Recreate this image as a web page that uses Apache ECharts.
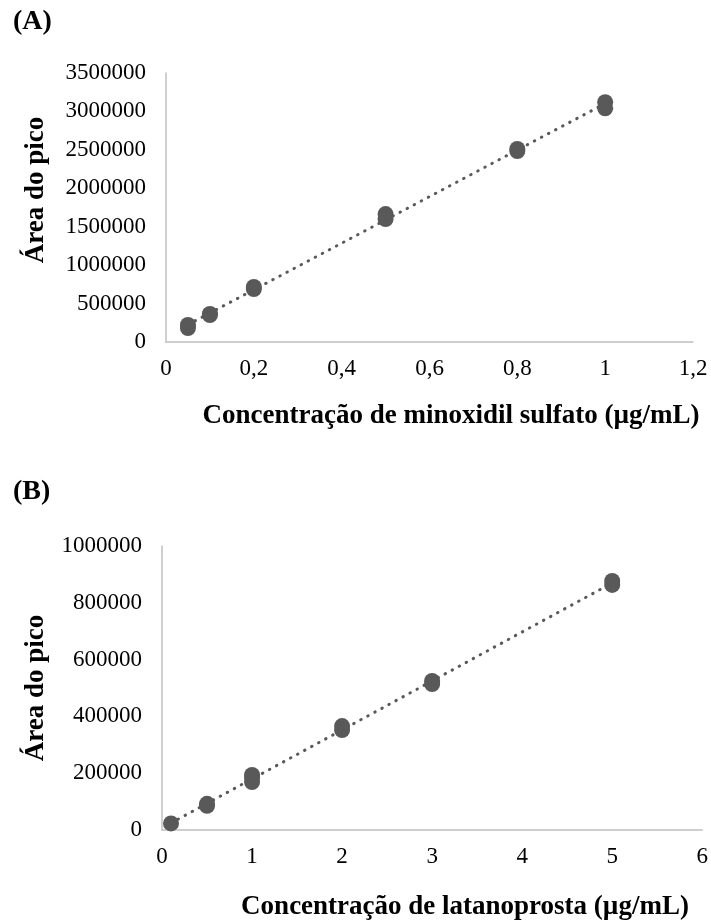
<!DOCTYPE html>
<html>
<head>
<meta charset="utf-8">
<script src="https://cdn.jsdelivr.net/npm/echarts@6/dist/echarts.min.js"></script>
<style>
  html, body { margin: 0; padding: 0; background: #fff; }
  #chart { width: 711px; height: 924px; }
</style>
</head>
<body>
<div id="chart"></div>
<script>
// (A) minoxidil sulfato
const concA = [0.05, 0.05, 0.1, 0.1, 0.2, 0.2, 0.5, 0.5, 0.8, 0.8, 1, 1];
const areaA = [221000, 182000, 364000, 351000, 716000, 690000, 1665000, 1600000, 2511000, 2485000, 3120000, 3040000];
// (B) latanoprosta
const concB = [0.1, 0.5, 0.5, 1, 1, 1, 2, 2, 3, 3, 5, 5];
const areaB = [23000, 92000, 85000, 194000, 185000, 169000, 366000, 352000, 525000, 514000, 877000, 863000];

const xTicksA = [0, 1.2, 0.2];        // min, max, interval
const yTicksA = [0, 3500000, 500000];
const xTicksB = [0, 6, 1];
const yTicksB = [0, 1000000, 200000];

const gray = "#595959";
const axisGray = "#c0c0c0";
const serif = "'Liberation Serif', 'Times New Roman', serif";

// least squares trendline over the data range (like Excel's linear trendline)
function trend(xs, ys) {
  const n = xs.length;
  let sx = 0, sy = 0, sxx = 0, sxy = 0;
  for (let i = 0; i < n; i++) {
    sx += xs[i]; sy += ys[i]; sxx += xs[i] * xs[i]; sxy += xs[i] * ys[i];
  }
  const b = (n * sxy - sx * sy) / (n * sxx - sx * sx);
  const a = (sy - b * sx) / n;
  const lo = Math.min(...xs), hi = Math.max(...xs);
  return [[lo, a + b * lo], [hi, a + b * hi]];
}

const pairs = (xs, ys) => xs.map((x, i) => [x, ys[i]]);

const tickText = { fontFamily: serif, fontSize: 23, color: "#000" };

function xAxis(grid, t, comma) {
  return {
    type: "value", gridIndex: grid, min: t[0], max: t[1], interval: t[2],
    axisLine: { lineStyle: { color: axisGray, width: 1.5 } },
    axisTick: { show: false },
    splitLine: { show: false },
    axisLabel: Object.assign({}, tickText, {
      margin: 15,
      formatter: (v) => comma ? String(+v.toFixed(1)).replace(".", ",") : String(v),
    }),
  };
}

function yAxis(grid, t) {
  return {
    type: "value", gridIndex: grid, min: t[0], max: t[1], interval: t[2],
    axisLine: { show: true, lineStyle: { color: axisGray, width: 1.5 } },
    axisTick: { show: false },
    splitLine: { show: false },
    axisLabel: Object.assign({}, tickText, { margin: 20, formatter: (v) => String(Math.round(v)) }),
  };
}

const dotted = { color: gray, width: 3, type: [0.5, 7.5], cap: "round" };

function title(text, x, y, size, align, rot) {
  return {
    type: "text", x: x, y: y, rotation: rot || 0,
    style: {
      text: text, fontFamily: serif, fontWeight: "bold", fontSize: size,
      fill: "#000", textAlign: align, textVerticalAlign: "middle",
    },
  };
}

const myChart = echarts.init(document.getElementById("chart"), null, { renderer: "canvas" });

const option = {
  animation: false,
  backgroundColor: "#fff",
  grid: [
    { left: 166, right: 18, top: 73, height: 269 },
    { left: 162, right: 7, top: 546, height: 284 },
  ],
  xAxis: [xAxis(0, xTicksA, true), xAxis(1, xTicksB, false)],
  yAxis: [yAxis(0, yTicksA), yAxis(1, yTicksB)],
  series: [
    {
      type: "scatter", xAxisIndex: 0, yAxisIndex: 0,
      symbolSize: 16, itemStyle: { color: gray, opacity: 1 },
      data: pairs(concA, areaA),
    },
    {
      type: "line", xAxisIndex: 0, yAxisIndex: 0, symbol: "none", z: 3,
      lineStyle: dotted, data: trend(concA, areaA),
    },
    {
      type: "scatter", xAxisIndex: 1, yAxisIndex: 1,
      symbolSize: 16, itemStyle: { color: gray, opacity: 1 },
      data: pairs(concB, areaB),
    },
    {
      type: "line", xAxisIndex: 1, yAxisIndex: 1, symbol: "none", z: 3,
      lineStyle: dotted, data: trend(concB, areaB),
    },
  ],
  graphic: [
    title("(A)", 13, 22, 28, "left"),
    title("(B)", 13, 492, 28, "left"),
    title("Área do pico", 36, 190, 27, "center", Math.PI / 2),
    title("Área do pico", 36, 688, 27, "center", Math.PI / 2),
    title("Concentração de minoxidil sulfato (µg/mL)", 451, 416, 27, "center"),
    title("Concentração de latanoprosta (µg/mL)", 465, 907, 27, "center"),
  ],
};

myChart.setOption(option);

window.addEventListener("resize", () => {
  myChart && myChart.resize();
});
</script>
</body>
</html>
